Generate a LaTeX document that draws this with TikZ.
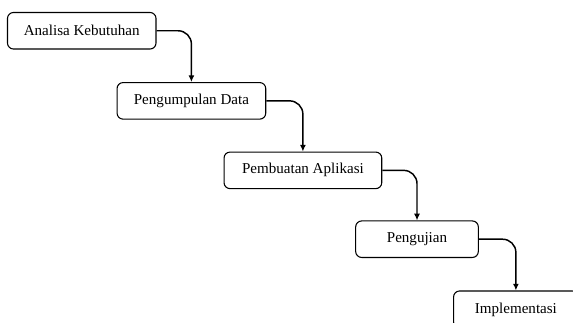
\documentclass[tikz,border=0pt]{standalone}
\usepackage{fontspec}
\setmainfont{Liberation Serif}
\usetikzlibrary{arrows.meta}

\begin{document}
\begin{tikzpicture}[x=0.75pt,y=-0.75pt,
  stage/.style={rectangle,draw=black,fill=white,rounded corners=4.5pt,line width=0.8pt,
    minimum height=27.4pt,inner sep=0pt,align=center,
    font=\fontsize{11.3}{13}\selectfont},
  arr/.style={-{Latex[length=5pt,width=4.5pt]},line width=1.1pt,rounded corners=10pt}
]
  \clip (0,0) rectangle (573,322);
  \fill[white] (0,0) rectangle (573,322);
  \node[stage,minimum width=111.4pt] (AK) at (81.75,30.75) {Analisa Kebutuhan};
  \node[stage,minimum width=111.5pt] (PD) at (191.4,100.85) {Pengumpulan Data};
  \node[stage,minimum width=118.3pt] (PA) at (302.9,170.35) {Pembuatan Aplikasi};
  \node[stage,minimum width=92pt] (PU) at (417,239.2) {Pengujian};
  \node[stage,minimum width=93.5pt,minimum height=27.8pt] (IM) at (515.9,309.5) {Implementasi};
  \draw[arr] (AK.east) -| (PD.north);
  \draw[arr] (PD.east) -| (PA.north);
  \draw[arr] (PA.east) -| (PU.north);
  \draw[arr] (PU.east) -| (IM.north);
\end{tikzpicture}
\end{document}
